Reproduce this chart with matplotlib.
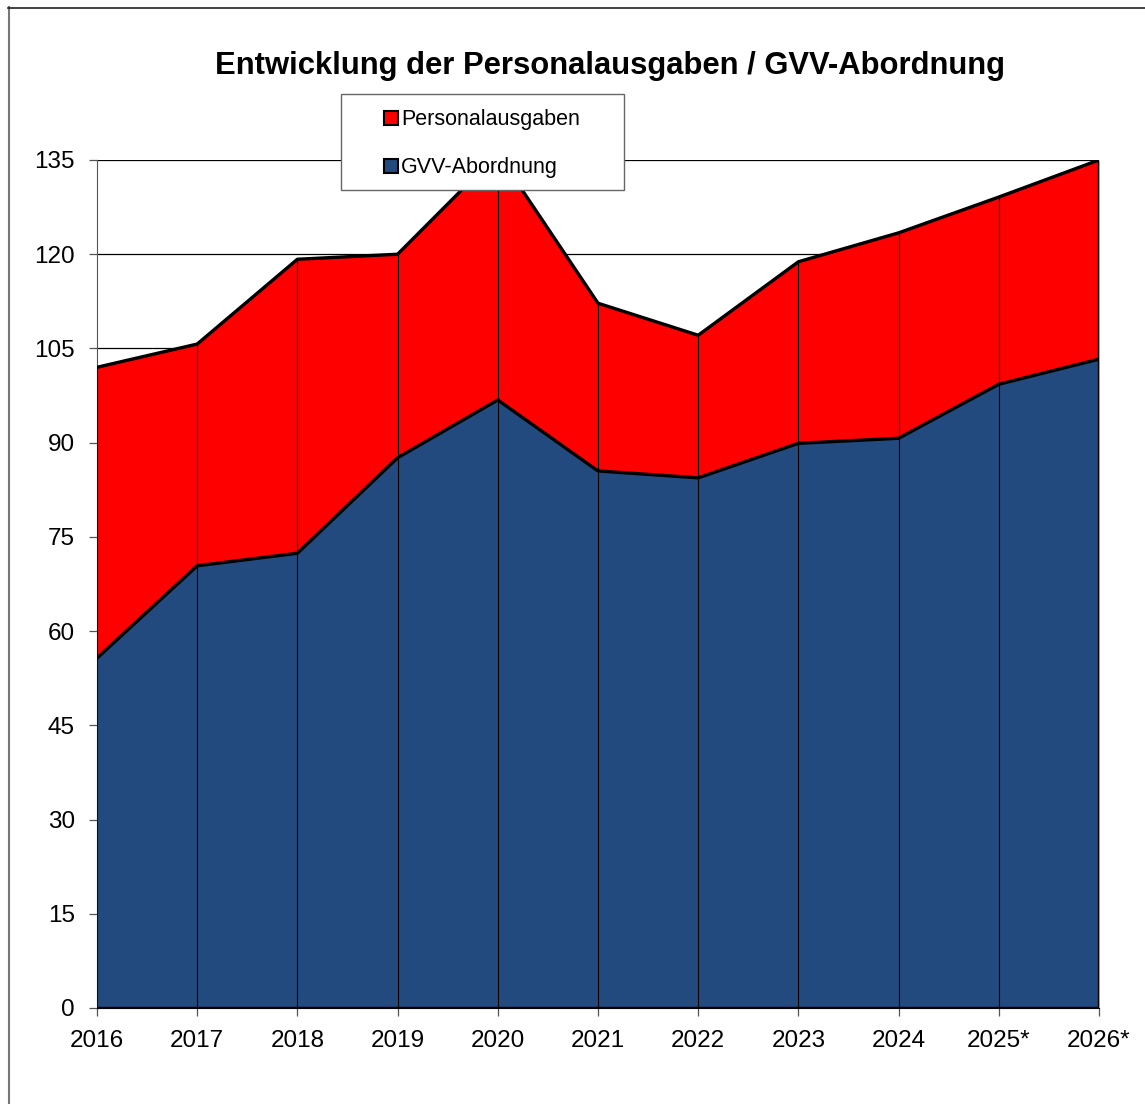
#!/usr/bin/env python3

import matplotlib
matplotlib.use('Agg')
import matplotlib.pyplot as plt
from matplotlib.lines import Line2D
from matplotlib.patches import Rectangle
import numpy as np

plt.rcParams['font.family'] = ['Liberation Sans', 'DejaVu Sans']

years = ['2016', '2017', '2018', '2019', '2020', '2021',
         '2022', '2023', '2024', '2025*', '2026*']
gvv = [55.7, 70.4, 72.4, 87.6, 96.8, 85.5, 84.4, 89.9, 90.7, 99.3, 103.3]
personal = [46.3, 35.3, 46.8, 32.4, 39.2, 26.7, 22.7, 28.9, 32.7, 29.8, 31.7]
y_ticks = [0, 15, 30, 45, 60, 75, 90, 105, 120, 135]
series_names = ['Personalausgaben', 'GVV-Abordnung']

RED = '#ff0000'
BLUE = '#224a7e'

x = np.arange(len(years))
gvv = np.array(gvv)
total = gvv + np.array(personal)

W, H = 1145, 1104
fig = plt.figure(figsize=(W / 100, H / 100), dpi=100)


def fx(px):
    return px / W


def fy(py):
    return 1 - py / H


# chart-area frame: only the left and top edges are visible in the original
fig.add_artist(Line2D([fx(8.5), fx(8.5)], [0, fy(7)], transform=fig.transFigure,
                      color='#777777', linewidth=1.5))
fig.add_artist(Line2D([fx(8), 1], [fy(7.5), fy(7.5)], transform=fig.transFigure,
                      color='#222222', linewidth=1.2))

ax = fig.add_axes([fx(97), 96 / H, 1002 / W, 848 / H])

for t in y_ticks[1:]:
    ax.axhline(t, color='black', linewidth=0.9, zorder=0)

ax.fill_between(x, 0, gvv, color=BLUE, linewidth=0, zorder=1)
ax.fill_between(x, gvv, total, color=RED, linewidth=0, zorder=1)
ax.vlines(x, 0, total, color='black', linewidth=0.8, zorder=2)
ax.plot(x, gvv, color='black', linewidth=2.4, zorder=3)
ax.plot(x, total, color='black', linewidth=2.4, zorder=3)
ax.plot([x[-1], x[-1]], [0, total[-1]], color='black', linewidth=2.4, zorder=3)
ax.plot([x[0], x[0]], [0, total[0]], color='black', linewidth=1.2, zorder=3)
ax.plot([x[0], x[-1]], [0, 0], color='black', linewidth=2.4, zorder=3)

ax.set_xlim(0, len(years) - 1)
ax.set_ylim(0, 135)
ax.set_xticks(x)
ax.set_xticklabels(years, fontsize=17.5)
ax.set_yticks(y_ticks)
ax.set_yticklabels([str(t) for t in y_ticks], fontsize=17.5)
ax.tick_params(axis='both', direction='out', length=6, width=0.9, color='#555555')
ax.tick_params(axis='x', pad=10)
ax.tick_params(axis='y', pad=10)
for side in ['top', 'right']:
    ax.spines[side].set_visible(False)
ax.spines['left'].set_color('#555555')
ax.spines['bottom'].set_color('black')

fig.text(fx(610), fy(66), 'Entwicklung der Personalausgaben / GVV-Abordnung',
         ha='center', va='center', fontsize=22.3, fontweight='bold')

# legend drawn as a fixed box, like the original's
fig.add_artist(Rectangle((fx(341), fy(190)), 283 / W, 96 / H, transform=fig.transFigure,
                         facecolor='white', edgecolor='#666666', linewidth=1.0, zorder=10))
for name, color, py in zip(series_names, [RED, BLUE], [118, 166]):
    fig.add_artist(Line2D([fx(391)], [fy(py)], transform=fig.transFigure, linestyle='none',
                          marker='s', markersize=10, markerfacecolor=color,
                          markeredgecolor='black', markeredgewidth=1.5, zorder=11))
    fig.text(fx(401), fy(py + 1), name, ha='left', va='center', fontsize=15.5, zorder=11)

fig.savefig('out.png', dpi=100)
